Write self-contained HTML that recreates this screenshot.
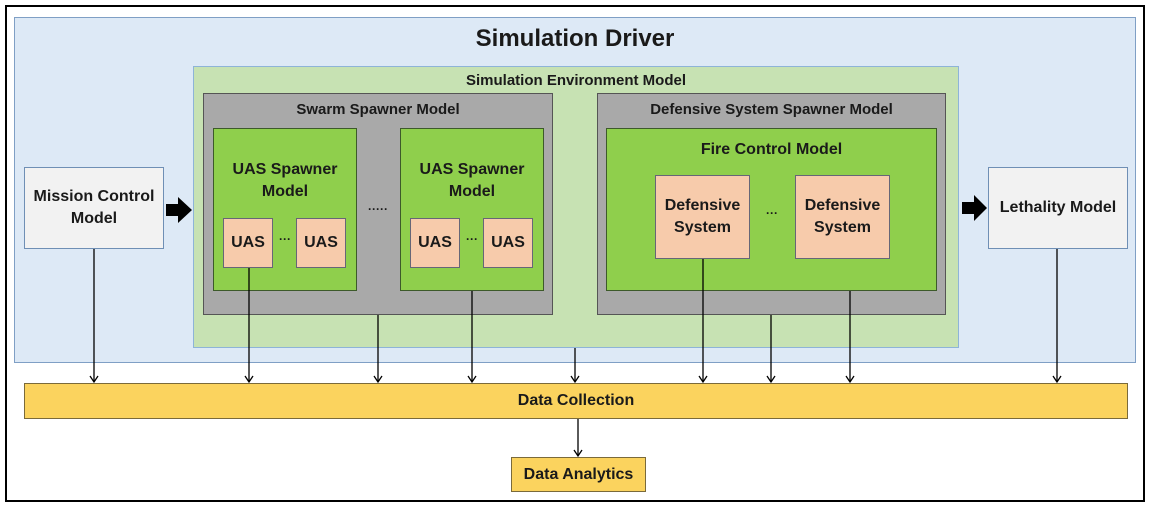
<!DOCTYPE html>
<html><head><style>
body{margin:0;width:1149px;height:508px;background:#fff;position:relative;font-family:"Liberation Sans",sans-serif;font-weight:bold;overflow:hidden}
.b{position:absolute;box-sizing:border-box;display:flex;justify-content:center;text-align:center;color:#1a1a1a}
.c{align-items:center}
.t{align-items:flex-start}
</style></head><body>
<div class="b" style="left:5px;top:5px;width:1140px;height:497px;border:2px solid #000"></div>
<div class="b t" style="left:14px;top:17px;width:1122px;height:346px;background:#dde9f6;border:1.5px solid #7f9fc5;font-size:24px;padding-top:7px">Simulation Driver</div>
<div class="b t" style="left:193px;top:66px;width:766px;height:282px;background:#c7e2b3;border:1.5px solid #8eb4d8;font-size:15px;padding-top:5px">Simulation Environment Model</div>
<div class="b t" style="left:203px;top:93px;width:350px;height:222px;background:#a9a9a9;border:1.5px solid #555;font-size:15px;padding-top:7px">Swarm Spawner Model</div>
<div class="b t" style="left:597px;top:93px;width:349px;height:222px;background:#a9a9a9;border:1.5px solid #555;font-size:15px;padding-top:7px">Defensive System Spawner Model</div>
<div class="b t" style="left:213px;top:128px;width:144px;height:163px;background:#8fcf4c;border:1.5px solid #3d5a2a;font-size:16px;padding-top:30px;line-height:22px">UAS Spawner<br>Model</div>
<div class="b t" style="left:400px;top:128px;width:144px;height:163px;background:#8fcf4c;border:1.5px solid #3d5a2a;font-size:16px;padding-top:30px;line-height:22px">UAS Spawner<br>Model</div>
<div class="b t" style="left:606px;top:128px;width:331px;height:163px;background:#8fcf4c;border:1.5px solid #3d5a2a;font-size:16px;padding-top:12px">Fire Control Model</div>
<div class="b c" style="left:223px;top:218px;width:50px;height:50px;background:#f7cbab;border:1.5px solid #667;font-size:16px">UAS</div>
<div class="b c" style="left:296px;top:218px;width:50px;height:50px;background:#f7cbab;border:1.5px solid #667;font-size:16px">UAS</div>
<div class="b c" style="left:410px;top:218px;width:50px;height:50px;background:#f7cbab;border:1.5px solid #667;font-size:16px">UAS</div>
<div class="b c" style="left:483px;top:218px;width:50px;height:50px;background:#f7cbab;border:1.5px solid #667;font-size:16px">UAS</div>
<div class="b c" style="left:274px;top:232px;width:22px;height:14px;font-size:12px">···</div>
<div class="b c" style="left:461px;top:232px;width:22px;height:14px;font-size:12px">···</div>
<div class="b c" style="left:360px;top:202px;width:36px;height:14px;font-size:12px">·····</div>
<div class="b c" style="left:750px;top:206px;width:44px;height:14px;font-size:12px">···</div>
<div class="b c" style="left:655px;top:175px;width:95px;height:84px;background:#f7cbab;border:1.5px solid #667;font-size:16px;line-height:22px">Defensive<br>System</div>
<div class="b c" style="left:795px;top:175px;width:95px;height:84px;background:#f7cbab;border:1.5px solid #667;font-size:16px;line-height:22px">Defensive<br>System</div>
<div class="b c" style="left:24px;top:167px;width:140px;height:82px;background:#f2f2f2;border:1.5px solid #6f8fb5;font-size:16px;line-height:22px">Mission Control<br>Model</div>
<div class="b c" style="left:988px;top:167px;width:140px;height:82px;background:#f2f2f2;border:1.5px solid #6f8fb5;font-size:16px">Lethality Model</div>
<div class="b c" style="left:24px;top:383px;width:1104px;height:36px;background:#fbd35e;border:1.5px solid #7a6a3a;font-size:16px">Data Collection</div>
<div class="b c" style="left:511px;top:457px;width:135px;height:35px;background:#fbd35e;border:1.5px solid #7a6a3a;font-size:16px">Data Analytics</div>
<svg width="1149" height="508" style="position:absolute;left:0;top:0">
<defs><marker id="a" markerWidth="10" markerHeight="10" refX="8" refY="5" orient="auto" markerUnits="userSpaceOnUse"><path d="M2,1 L8,5 L2,9" fill="none" stroke="#000" stroke-width="1.3"/></marker></defs>
<g stroke="#000" stroke-width="1.3" marker-end="url(#a)">
<line x1="94" y1="249" x2="94" y2="382"/>
<line x1="249" y1="268" x2="249" y2="382"/>
<line x1="378" y1="315" x2="378" y2="382"/>
<line x1="472" y1="291" x2="472" y2="382"/>
<line x1="575" y1="348" x2="575" y2="382"/>
<line x1="703" y1="259" x2="703" y2="382"/>
<line x1="771" y1="315" x2="771" y2="382"/>
<line x1="850" y1="291" x2="850" y2="382"/>
<line x1="1057" y1="249" x2="1057" y2="382"/>
<line x1="578" y1="419" x2="578" y2="456"/>
</g>
<path d="M166,204 h12 v-7 l14,13 l-14,13 v-7 h-12z" fill="#000"/>
<path d="M962,202 h12 v-7 l13,13 l-13,13 v-7 h-12z" fill="#000"/>
</svg>
</body></html>
